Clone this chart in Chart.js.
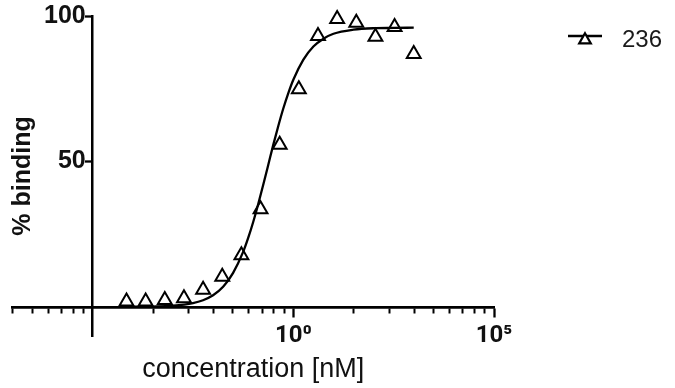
<!DOCTYPE html>
<html>
<head>
<meta charset="utf-8">
<script src="https://cdn.jsdelivr.net/npm/chart.js@4.4.1/dist/chart.umd.min.js"></script>
<style>
  html, body { margin: 0; padding: 0; background: #ffffff; }
  #wrap { width: 675px; height: 388px; position: relative; }
  #legend { position: absolute; left: 0; top: 0; width: 675px; height: 0; }
  #legend .icon { position: absolute; left: 566px; top: 26px; }
  #legend .lbl { position: absolute; left: 622px; top: 26.5px; font: 24px 'Liberation Sans', Arial, sans-serif; line-height: 24px; color: #1a1a1a; white-space: nowrap; }
</style>
</head>
<body>
<div id="wrap"><canvas id="c" width="675" height="388"></canvas><div id="legend"></div></div>
<script>
// ---- data ----
const seriesLabel = '236';
const concentrations = [0.0000697, 0.000209, 0.000627, 0.001882, 0.005645, 0.01694, 0.0508, 0.1524,
                        0.4572, 1.372, 4.115, 12.35, 37.04, 111.1, 333.3, 1000];
const binding236 = [1.9, 1.9, 2.4, 3.0, 5.9, 10.4, 17.8, 33.6, 55.7, 74.8, 93.1, 99.0, 97.7, 92.9, 96.2, 86.9];

// fitted curve as traced on the picture
const fitX = [0.0000692, 0.000316, 0.001, 0.00316, 0.00562, 0.01, 0.0178, 0.0316, 0.0562, 0.075, 0.1, 0.133,
              0.178, 0.237, 0.316, 0.422, 0.562, 0.75, 1, 1.78, 3.16, 5.62, 10, 31.6, 100, 316, 1000];
const fitY = [0.03, 0.13, 0.42, 1.31, 2.3, 4.0, 6.9, 11.7, 18.9, 23.7, 29.2, 35.3,
              42.0, 48.8, 55.7, 62.2, 68.2, 73.5, 78.1, 85.0, 89.5, 92.2, 93.9, 95.3, 95.8, 95.9, 96.0];

// axis ticks
const xMajorTicks = [1, 100000];
const xMajorLabels = ['10\u2070', '10\u2075'];
const xMinorTicks = [1.024e-7, 3.125e-7, 7.776e-7, 1.6807e-6, 3.2768e-6, 5.9049e-6,
                     3.2e-4, 2.43e-3, 1.024e-2, 3.125e-2, 7.776e-2, 0.16807, 0.32768, 0.59049,
                     32, 243, 1024, 3125, 7776, 16807, 32768, 59049];
const yTicks = [50, 100];
const xTitle = 'concentration [nM]';
const yTitle = '% binding';

const FONT = "'Liberation Sans', Arial, Helvetica, sans-serif";
const SUP_FONT = "Roboto, 'Liberation Sans', Arial, sans-serif";

// HTML legend built from the chart's datasets (line + open triangle, then label)
const htmlLegend = {
  id: 'htmlLegend',
  afterUpdate(chart) {
    const box = document.getElementById('legend');
    box.innerHTML = '';
    chart.data.datasets.filter(ds => ds.inLegend).forEach(ds => {
      const cv = document.createElement('canvas');
      cv.width = 38; cv.height = 24; cv.className = 'icon';
      const g = cv.getContext('2d');
      g.strokeStyle = ds.borderColor; g.lineWidth = 2.5;
      g.beginPath(); g.moveTo(2, 10); g.lineTo(36, 10); g.stroke();
      const cx = 19, cy = 14, r = 6.7;
      g.lineWidth = 2.2;
      g.beginPath();
      for (let i = 0; i < 3; i++) {
        const a = i * 2 * Math.PI / 3;
        const px = cx + Math.sin(a) * r, py = cy - Math.cos(a) * r;
        if (i === 0) g.moveTo(px, py); else g.lineTo(px, py);
      }
      g.closePath();
      g.fillStyle = '#fff'; g.fill(); g.stroke();
      const sp = document.createElement('span');
      sp.className = 'lbl';
      sp.textContent = ds.label;
      box.appendChild(cv);
      box.appendChild(sp);
    });
  }
};

new Chart(document.getElementById('c'), {
  type: 'scatter',
  plugins: [htmlLegend],
  data: {
    datasets: [
      {
        label: seriesLabel,
        inLegend: true,
        data: concentrations.map((c, i) => ({x: c, y: binding236[i]})),
        showLine: false,
        pointStyle: 'triangle',
        pointRadius: 8,
        pointHoverRadius: 8,
        pointBorderWidth: 2,
        borderColor: '#000',
        backgroundColor: 'rgba(255,255,255,0)',
        clip: false,
        order: 0
      },
      {
        label: 'fit',
        inLegend: false,
        data: fitX.map((c, i) => ({x: c, y: fitY[i]})),
        showLine: true,
        pointRadius: 0,
        borderColor: '#000',
        borderWidth: 2.3,
        cubicInterpolationMode: 'monotone',
        fill: false,
        clip: false,
        order: 1
      }
    ]
  },
  options: {
    responsive: false,
    animation: false,
    events: [],
    layout: { padding: { left: 0, top: 12, right: 181, bottom: 52 } },
    plugins: {
      tooltip: { enabled: false },
      legend: { display: false }
    },
    scales: {
      x: {
        type: 'logarithmic',
        axis: 'x',
        min: 1e-7,
        max: 1e5,
        position: { y: 0 },
        afterBuildTicks: (s) => { s.ticks = xMajorTicks.map(v => ({value: v, major: true})); },
        ticks: {
          autoSkip: false,
          maxRotation: 0,
          padding: 6,
          color: '#111',
          font: { family: SUP_FONT, size: 24, weight: 'bold' },
          callback: (v) => { const i = xMajorTicks.indexOf(v); return i >= 0 ? xMajorLabels[i] : ''; }
        },
        grid: { display: true, drawOnChartArea: false, drawTicks: true, tickLength: 9, tickWidth: 2.3, tickColor: '#000' },
        border: { display: true, color: '#000', width: 2.5 },
        title: { display: true, text: xTitle, color: '#111', font: { family: FONT, size: 27 }, padding: { top: -3, bottom: 0 } }
      },
      xm: {
        type: 'logarithmic',
        axis: 'x',
        min: 1e-7,
        max: 1e5,
        position: { y: 0 },
        afterBuildTicks: (s) => { s.ticks = xMinorTicks.map(v => ({value: v})); },
        ticks: { display: false, autoSkip: false },
        grid: { display: true, drawOnChartArea: false, drawTicks: true, tickLength: 5, tickWidth: 2, tickColor: '#000' },
        border: { display: true, color: '#000', width: 2.5 }
      },
      y: {
        type: 'linear',
        axis: 'y',
        min: -10,
        max: 100,
        position: { x: 1e-5 },
        afterBuildTicks: (s) => { s.ticks = yTicks.map(v => ({value: v})); },
        ticks: {
          autoSkip: false,
          padding: 1,
          color: '#111',
          font: { family: FONT, size: 25, weight: 'bold' },
          // a positioned axis draws labels flush against its line; one trailing space leaves room for the tick
          callback: (v) => String(v) + ' '
        },
        grid: { display: true, drawOnChartArea: false, drawTicks: true, tickLength: 6, tickWidth: 2.3, tickColor: '#000' },
        border: { display: true, color: '#000', width: 2.5 }
      },
      yt: {
        type: 'linear',
        axis: 'y',
        position: 'left',
        min: -10,
        max: 100,
        ticks: { display: false },
        grid: { display: false, drawTicks: false },
        border: { display: false },
        title: { display: true, text: yTitle, color: '#111', font: { family: FONT, size: 25, weight: 'bold' }, padding: { top: 8, bottom: -25.6 } }
      }
    }
  }
});
</script>
</body>
</html>
